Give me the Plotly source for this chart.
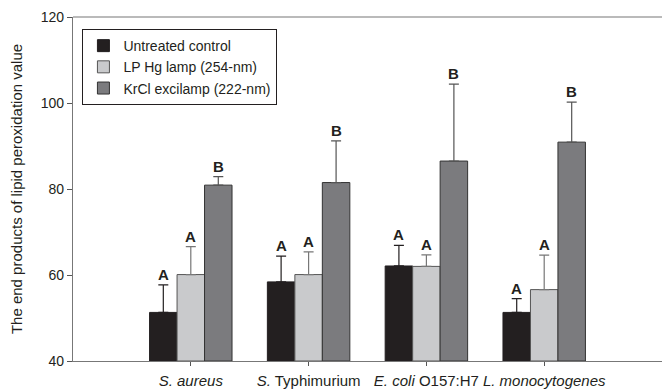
import plotly.graph_objects as go

categories = ["<i>S. aureus</i>", "<i>S.</i> Typhimurium", "<i>E. coli</i> O157:H7", "<i>L. monocytogenes</i>"]
series_names = ["Untreated control", "LP Hg lamp (254-nm)", "KrCl excilamp (222-nm)"]
control = [51.3, 58.4, 62.1, 51.3]
control_err = [6.4, 6.0, 4.8, 3.2]
lphg = [60.1, 60.1, 62.0, 56.6]
lphg_err = [6.5, 5.3, 2.7, 8.0]
krcl = [80.9, 81.5, 86.5, 90.9]
krcl_err = [2.0, 9.7, 17.9, 9.3]
letters_control = ["A", "A", "A", "A"]
letters_lphg = ["A", "A", "A", "A"]
letters_krcl = ["B", "B", "B", "B"]

FONT = "Arial, Liberation Sans, sans-serif"
x = list(range(len(categories)))

styles = [
    dict(fill="#231f20", line="#231f20", err="#231f20"),
    dict(fill="#c9cacc", line="#555555", err="#777777"),
    dict(fill="#7b7b7e", line="#333333", err="#555555"),
]
vals = [control, lphg, krcl]
errs = [control_err, lphg_err, krcl_err]
letters = [letters_control, letters_lphg, letters_krcl]

fig = go.Figure()
for name, v, e, s in zip(series_names, vals, errs, styles):
    fig.add_trace(go.Bar(
        x=x, y=[yy - 40 for yy in v], base=40, name=name,
        marker=dict(color=s["fill"], line=dict(color=s["line"], width=1)),
        error_y=dict(type="data", array=e, arrayminus=[0] * len(e), symmetric=False,
                     color=s["err"], thickness=1.2, width=5),
    ))

bargap = 0.3
bw = (1 - bargap) / 3
annotations = []
for i, (v, e, L) in enumerate(zip(vals, errs, letters)):
    off = (i - 1) * bw
    for j in range(len(categories)):
        annotations.append(dict(
            x=x[j] + off, y=v[j] + e[j], xref="x", yref="y", text="<b>%s</b>" % L[j],
            showarrow=False, yanchor="bottom", yshift=0,
            font=dict(family=FONT, size=15, color="#231f20")))

fig.update_layout(
    width=662, height=390,
    margin=dict(l=73, r=0, t=17, b=29, autoexpand=False),
    paper_bgcolor="white", plot_bgcolor="white",
    barmode="group", bargap=bargap, bargroupgap=0,
    font=dict(family=FONT, size=13, color="#231f20"),
    showlegend=True,
    legend=dict(x=0.016, y=0.965, xanchor="left", yanchor="top",
                bordercolor="#231f20", borderwidth=1, bgcolor="white",
                font=dict(family=FONT, size=14, color="#231f20"),
                tracegroupgap=0, itemwidth=30),
    annotations=annotations,
    shapes=[dict(type="line", xref="paper", yref="paper", x0=0, x1=1, y0=1, y1=1,
                 line=dict(color="#777777", width=1.2))],
    xaxis=dict(range=[-1, 4], tickvals=x, ticktext=categories, tickangle=0,
               showline=True, linecolor="#777777", linewidth=1.2, mirror=False,
               ticks="outside", ticklen=4, tickcolor="#555555",
               showgrid=False, zeroline=False, automargin=False, ticklabelstandoff=2,
               tickfont=dict(family=FONT, size=15, color="#231f20")),
    yaxis=dict(range=[40, 120], tickvals=[40, 60, 80, 100, 120],
               showline=True, linecolor="#777777", linewidth=1.2,
               ticks="outside", ticklen=5, tickcolor="#555555",
               showgrid=False, zeroline=False, automargin=False,
               tickfont=dict(family=FONT, size=14, color="#231f20"),
               title=dict(text="The end products of lipid peroxidation value",
                          font=dict(family=FONT, size=15, color="#231f20"), standoff=14)),
)

fig.write_html("out.html")
